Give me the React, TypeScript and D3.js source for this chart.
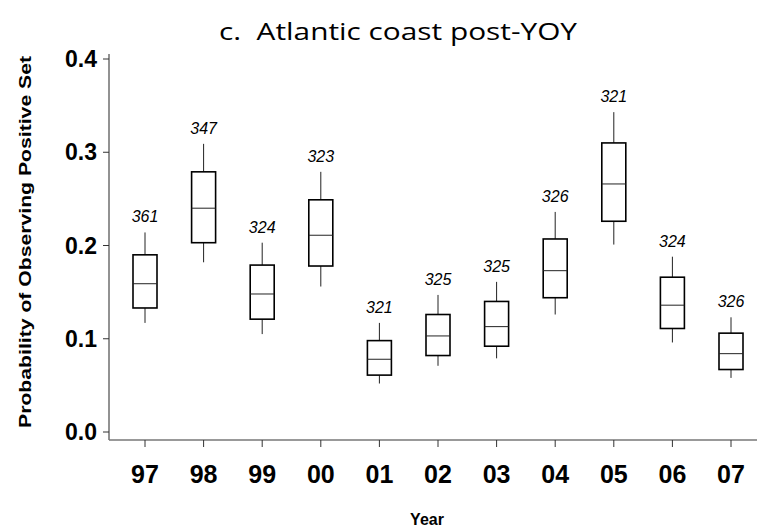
import React from "react";
import * as d3 from "d3";

const years = ["97", "98", "99", "00", "01", "02", "03", "04", "05", "06", "07"];
const counts = [361, 347, 324, 323, 321, 325, 325, 326, 321, 324, 326];
const whiskerHigh = [0.214, 0.309, 0.203, 0.279, 0.117, 0.147, 0.161, 0.236, 0.343, 0.188, 0.123];
const q3 = [0.190, 0.279, 0.179, 0.249, 0.098, 0.126, 0.140, 0.207, 0.310, 0.166, 0.106];
const medians = [0.159, 0.240, 0.148, 0.211, 0.078, 0.103, 0.113, 0.173, 0.266, 0.136, 0.084];
const q1 = [0.133, 0.203, 0.121, 0.178, 0.061, 0.082, 0.092, 0.144, 0.226, 0.111, 0.067];
const whiskerLow = [0.117, 0.182, 0.105, 0.156, 0.052, 0.071, 0.079, 0.126, 0.201, 0.096, 0.058];
const yTicks = [0.0, 0.1, 0.2, 0.3, 0.4];

const W = 759;
const H = 530;

export default function App() {
  const x = d3.scalePoint<string>().domain(years).range([145, 731]);
  const y = d3.scaleLinear().domain([0, 0.4]).range([432, 59]);
  const axisX = 109;
  const axisY = 440;
  const boxW = 24;
  const sans = "'Liberation Sans', Arial, Helvetica, sans-serif";

  return (
    <svg
      width={W}
      height={H}
      viewBox={`0 0 ${W} ${H}`}
      style={{ position: "absolute", left: 0, top: 0, background: "#fff" }}
    >
      <rect x={0} y={0} width={W} height={H} fill="#fff" />
      {/* title */}
      <text
        x={398}
        y={40}
        textAnchor="middle"
        fontFamily="'Open Sans', Carlito, Calibri, sans-serif"
        fontSize={23}
        fill="#000"
        textLength={358}
        lengthAdjust="spacingAndGlyphs"
        style={{ whiteSpace: "pre" }}
      >
        {"c.  Atlantic coast post-YOY"}
      </text>

      {/* y axis */}
      <line x1={axisX} x2={axisX} y1={54} y2={axisY} stroke="#777" strokeWidth={1.6} />
      {yTicks.map((t) => (
        <g key={t}>
          <line x1={axisX - 6} x2={axisX} y1={y(t)} y2={y(t)} stroke="#333" strokeWidth={1} />
          <text
            x={97}
            y={y(t) + 8}
            textAnchor="end"
            fontFamily={sans}
            fontWeight="bold"
            fontSize={23}
            fill="#000"
          >
            {t.toFixed(1)}
          </text>
        </g>
      ))}
      <text
        transform={`translate(31, 242) rotate(-90)`}
        textAnchor="middle"
        fontFamily={sans}
        fontWeight="bold"
        fontSize={17}
        fill="#000"
        textLength={372}
        lengthAdjust="spacingAndGlyphs"
      >
        Probability  of  Observing  Positive  Set
      </text>

      {/* x axis */}
      <line x1={axisX} x2={757} y1={axisY} y2={axisY} stroke="#777" strokeWidth={1.6} />
      {years.map((yr) => (
        <g key={yr}>
          <line x1={x(yr)} x2={x(yr)} y1={axisY} y2={axisY + 7} stroke="#333" strokeWidth={1} />
          <text
            x={x(yr)}
            y={483}
            textAnchor="middle"
            fontFamily={sans}
            fontWeight="bold"
            fontSize={25}
            fill="#000"
          >
            {yr}
          </text>
        </g>
      ))}
      <text
        x={427}
        y={525}
        textAnchor="middle"
        fontFamily={sans}
        fontWeight="bold"
        fontSize={16}
        fill="#000"
      >
        Year
      </text>

      {/* boxes */}
      {years.map((yr, i) => {
        const cx = x(yr) as number;
        return (
          <g key={"b" + yr}>
            <line x1={cx} x2={cx} y1={y(whiskerHigh[i])} y2={y(q3[i])} stroke="#222" strokeWidth={1} />
            <line x1={cx} x2={cx} y1={y(q1[i])} y2={y(whiskerLow[i])} stroke="#222" strokeWidth={1} />
            <rect
              x={cx - boxW / 2}
              y={y(q3[i])}
              width={boxW}
              height={y(q1[i]) - y(q3[i])}
              fill="#fff"
              stroke="#000"
              strokeWidth={1.6}
            />
            <line
              x1={cx - boxW / 2}
              x2={cx + boxW / 2}
              y1={y(medians[i])}
              y2={y(medians[i])}
              stroke="#222"
              strokeWidth={1}
            />
            <text
              x={cx}
              y={y(whiskerHigh[i]) - 10}
              textAnchor="middle"
              fontFamily={sans}
              fontStyle="italic"
              fontSize={16}
              fill="#000"
            >
              {counts[i]}
            </text>
          </g>
        );
      })}
    </svg>
  );
}
